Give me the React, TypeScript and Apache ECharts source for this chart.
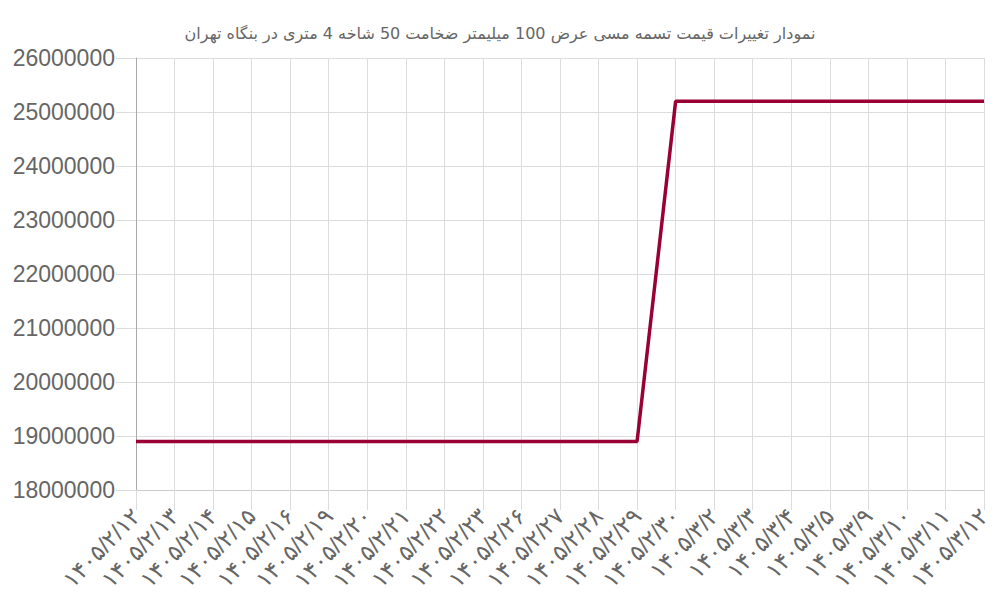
import React, { useEffect, useRef } from 'react';
import * as echarts from 'echarts';

const titleText =
    'نمودار تغییرات قیمت تسمه مسی عرض 100 میلیمتر ضخامت 50 شاخه 4 متری در بنگاه تهران';

const dates = [
    '۱۴۰۵/۲/۱۲', '۱۴۰۵/۲/۱۳', '۱۴۰۵/۲/۱۴', '۱۴۰۵/۲/۱۵', '۱۴۰۵/۲/۱۶',
    '۱۴۰۵/۲/۱۹', '۱۴۰۵/۲/۲۰', '۱۴۰۵/۲/۲۱', '۱۴۰۵/۲/۲۲', '۱۴۰۵/۲/۲۳',
    '۱۴۰۵/۲/۲۶', '۱۴۰۵/۲/۲۷', '۱۴۰۵/۲/۲۸', '۱۴۰۵/۲/۲۹', '۱۴۰۵/۲/۳۰',
    '۱۴۰۵/۳/۲', '۱۴۰۵/۳/۳', '۱۴۰۵/۳/۴', '۱۴۰۵/۳/۵', '۱۴۰۵/۳/۹',
    '۱۴۰۵/۳/۱۰', '۱۴۰۵/۳/۱۱', '۱۴۰۵/۳/۱۲',
];

const prices = [
    18900000, 18900000, 18900000, 18900000, 18900000,
    18900000, 18900000, 18900000, 18900000, 18900000,
    18900000, 18900000, 18900000, 18900000, 25200000,
    25200000, 25200000, 25200000, 25200000, 25200000,
    25200000, 25200000, 25200000,
];

const yMin = 18000000;
const yMax = 26000000;
const yStep = 1000000;

const gridColor = '#dcdcdc';
const textColor = '#666';

const App: React.FC = () => {
    const chartRef = useRef<HTMLDivElement>(null);

    useEffect(() => {
        if (!chartRef.current) return;
        const chart = echarts.init(chartRef.current, undefined, { renderer: 'svg' });
        chart.setOption({
            animation: false,
            backgroundColor: '#fff',
            title: {
                text: titleText,
                left: 'center',
                top: 20,
                textStyle: {
                    color: textColor,
                    fontSize: 16,
                    fontWeight: 'normal',
                    fontFamily: 'DejaVu Sans, sans-serif',
                },
            },
            grid: { left: 136, right: 16, top: 58, bottom: 110, containLabel: false },
            xAxis: {
                type: 'category',
                data: dates,
                boundaryGap: false,
                axisLine: { lineStyle: { color: '#ccc' } },
                axisTick: { show: true, length: 20, lineStyle: { color: gridColor } },
                splitLine: { show: true, lineStyle: { color: gridColor } },
                axisLabel: {
                    interval: 0,
                    rotate: 46,
                    margin: 22,
                    color: textColor,
                    fontSize: 23,
                    fontFamily: 'Liberation Sans, DejaVu Sans, sans-serif',
                },
            },
            yAxis: {
                type: 'value',
                min: yMin,
                max: yMax,
                interval: yStep,
                axisLine: { show: true, lineStyle: { color: '#aaa' } },
                axisTick: { show: true, length: 20, lineStyle: { color: gridColor } },
                splitLine: { show: true, lineStyle: { color: gridColor } },
                axisLabel: {
                    margin: 21,
                    color: textColor,
                    fontSize: 23,
                    fontFamily: 'Liberation Sans, Arial, sans-serif',
                    formatter: (v: number) => String(v),
                },
            },
            series: [
                {
                    type: 'line',
                    data: prices,
                    showSymbol: false,
                    lineStyle: { color: '#990033', width: 3.5 },
                    itemStyle: { color: '#990033' },
                },
            ],
        });
        return () => {
            chart.dispose();
        };
    }, []);

    return (
        <div
            ref={chartRef}
            style={{ position: 'absolute', left: 0, top: 0, width: 1000, height: 600 }}
        />
    );
};

export default App;
